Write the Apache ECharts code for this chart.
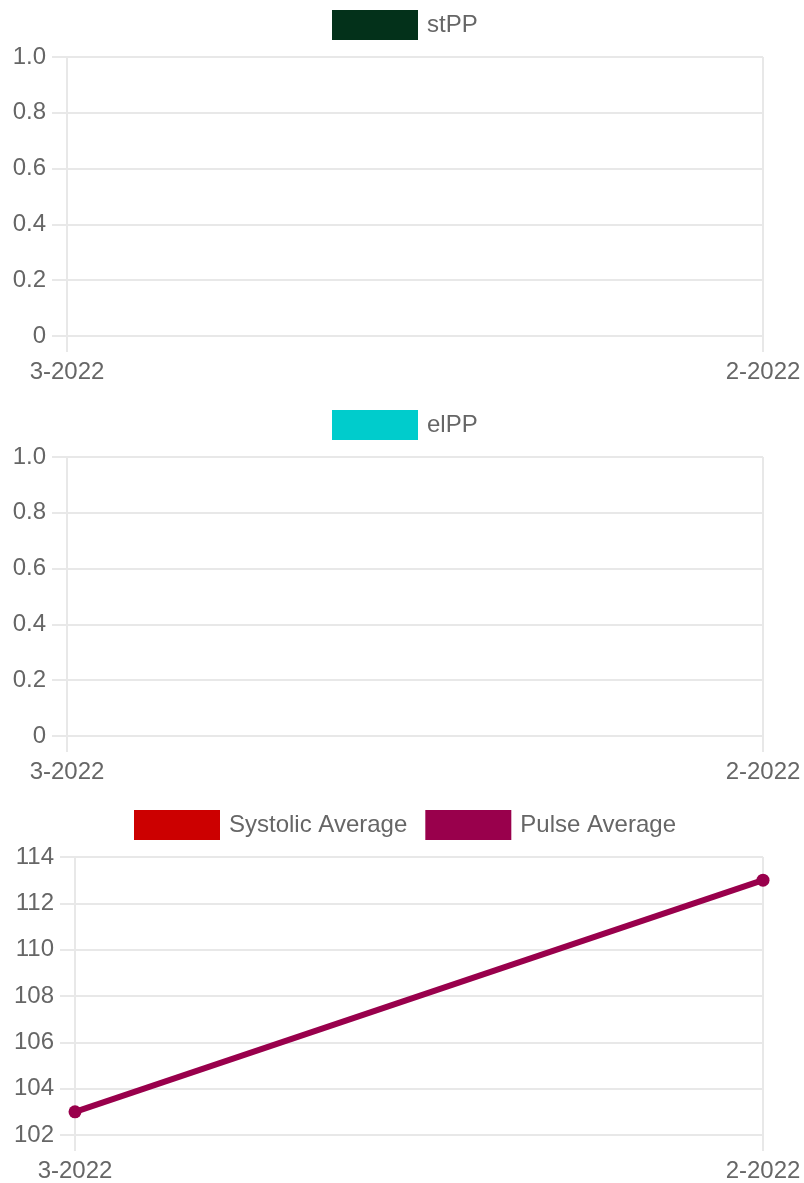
<!DOCTYPE html>
<html>
<head>
<meta charset="utf-8">
<script src="https://cdn.jsdelivr.net/npm/echarts@6/dist/echarts.min.js"></script>
<style>
  html, body { margin: 0; padding: 0; background: #fff; }
  #chart { width: 804px; height: 1183px; }
</style>
</head>
<body>
<div id="chart"></div>
<script>
// months on the x axis
const months = ['3-2022', '2-2022'];

// first two panels have no readings
const stPP = [];
const elPP = [];

// bottom panel
const systolicAvg = [null, null];
const pulseAvg = [103, 113];

const FONT = 'Liberation Sans';
const GRID_COLOR = '#e8e8e8';
const TEXT_COLOR = '#666';

const chart = echarts.init(document.getElementById('chart'));

const lineStyle = { color: GRID_COLOR, width: 2 };

const makeX = (gridIndex) => ({
    type: 'category',
    gridIndex,
    data: months,
    boundaryGap: false,
    axisLine: { show: true, lineStyle },
    axisTick: { show: true, length: 16, lineStyle },
    axisLabel: { color: TEXT_COLOR, fontFamily: FONT, fontSize: 24, margin: 24 },
    splitLine: { show: true, lineStyle },
});

const makeY = (gridIndex, min, max, interval, fmt) => ({
    type: 'value',
    gridIndex,
    min,
    max,
    interval,
    axisLine: { show: true, lineStyle },
    axisTick: { show: true, length: 15, lineStyle },
    axisLabel: { color: TEXT_COLOR, fontFamily: FONT, fontSize: 24, margin: 21, formatter: fmt },
    splitLine: { show: true, lineStyle },
});

const unitFmt = (v) => (v === 0 ? '0' : v.toFixed(1));

const makeLegend = (top, left, names) => ({
    top,
    left,
    padding: 0,
    itemWidth: 86,
    itemHeight: 30,
    itemGap: 18,
    icon: 'rect',
    data: names,
    textStyle: { color: TEXT_COLOR, fontFamily: FONT, fontSize: 24, padding: [0, 0, 0, 4] },
});

const option = {
    animation: false,
    legend: [
        makeLegend(10, 332, ['stPP']),
        makeLegend(410, 332, ['elPP']),
        makeLegend(810, 134, ['Systolic Average', 'Pulse Average']),
    ],
    grid: [
        { left: 67, right: 41, top: 57, height: 279 },
        { left: 67, right: 41, top: 457, height: 279 },
        { left: 75, right: 41, top: 857, height: 278 },
    ],
    xAxis: [makeX(0), makeX(1), makeX(2)],
    yAxis: [
        makeY(0, 0, 1, 0.2, unitFmt),
        makeY(1, 0, 1, 0.2, unitFmt),
        makeY(2, 102, 114, 2),
    ],
    series: [
        {
            name: 'stPP', type: 'line', xAxisIndex: 0, yAxisIndex: 0,
            data: stPP, color: '#03311a',
        },
        {
            name: 'elPP', type: 'line', xAxisIndex: 1, yAxisIndex: 1,
            data: elPP, color: '#00cccc',
        },
        {
            name: 'Systolic Average', type: 'line', xAxisIndex: 2, yAxisIndex: 2,
            data: systolicAvg, color: '#cc0000',
            lineStyle: { width: 6 }, symbol: 'circle', symbolSize: 13,
        },
        {
            name: 'Pulse Average', type: 'line', xAxisIndex: 2, yAxisIndex: 2,
            data: pulseAvg, color: '#99004c',
            lineStyle: { width: 6 }, symbol: 'circle', symbolSize: 13,
        },
    ],
};

chart.setOption(option);
</script>
</body>
</html>
